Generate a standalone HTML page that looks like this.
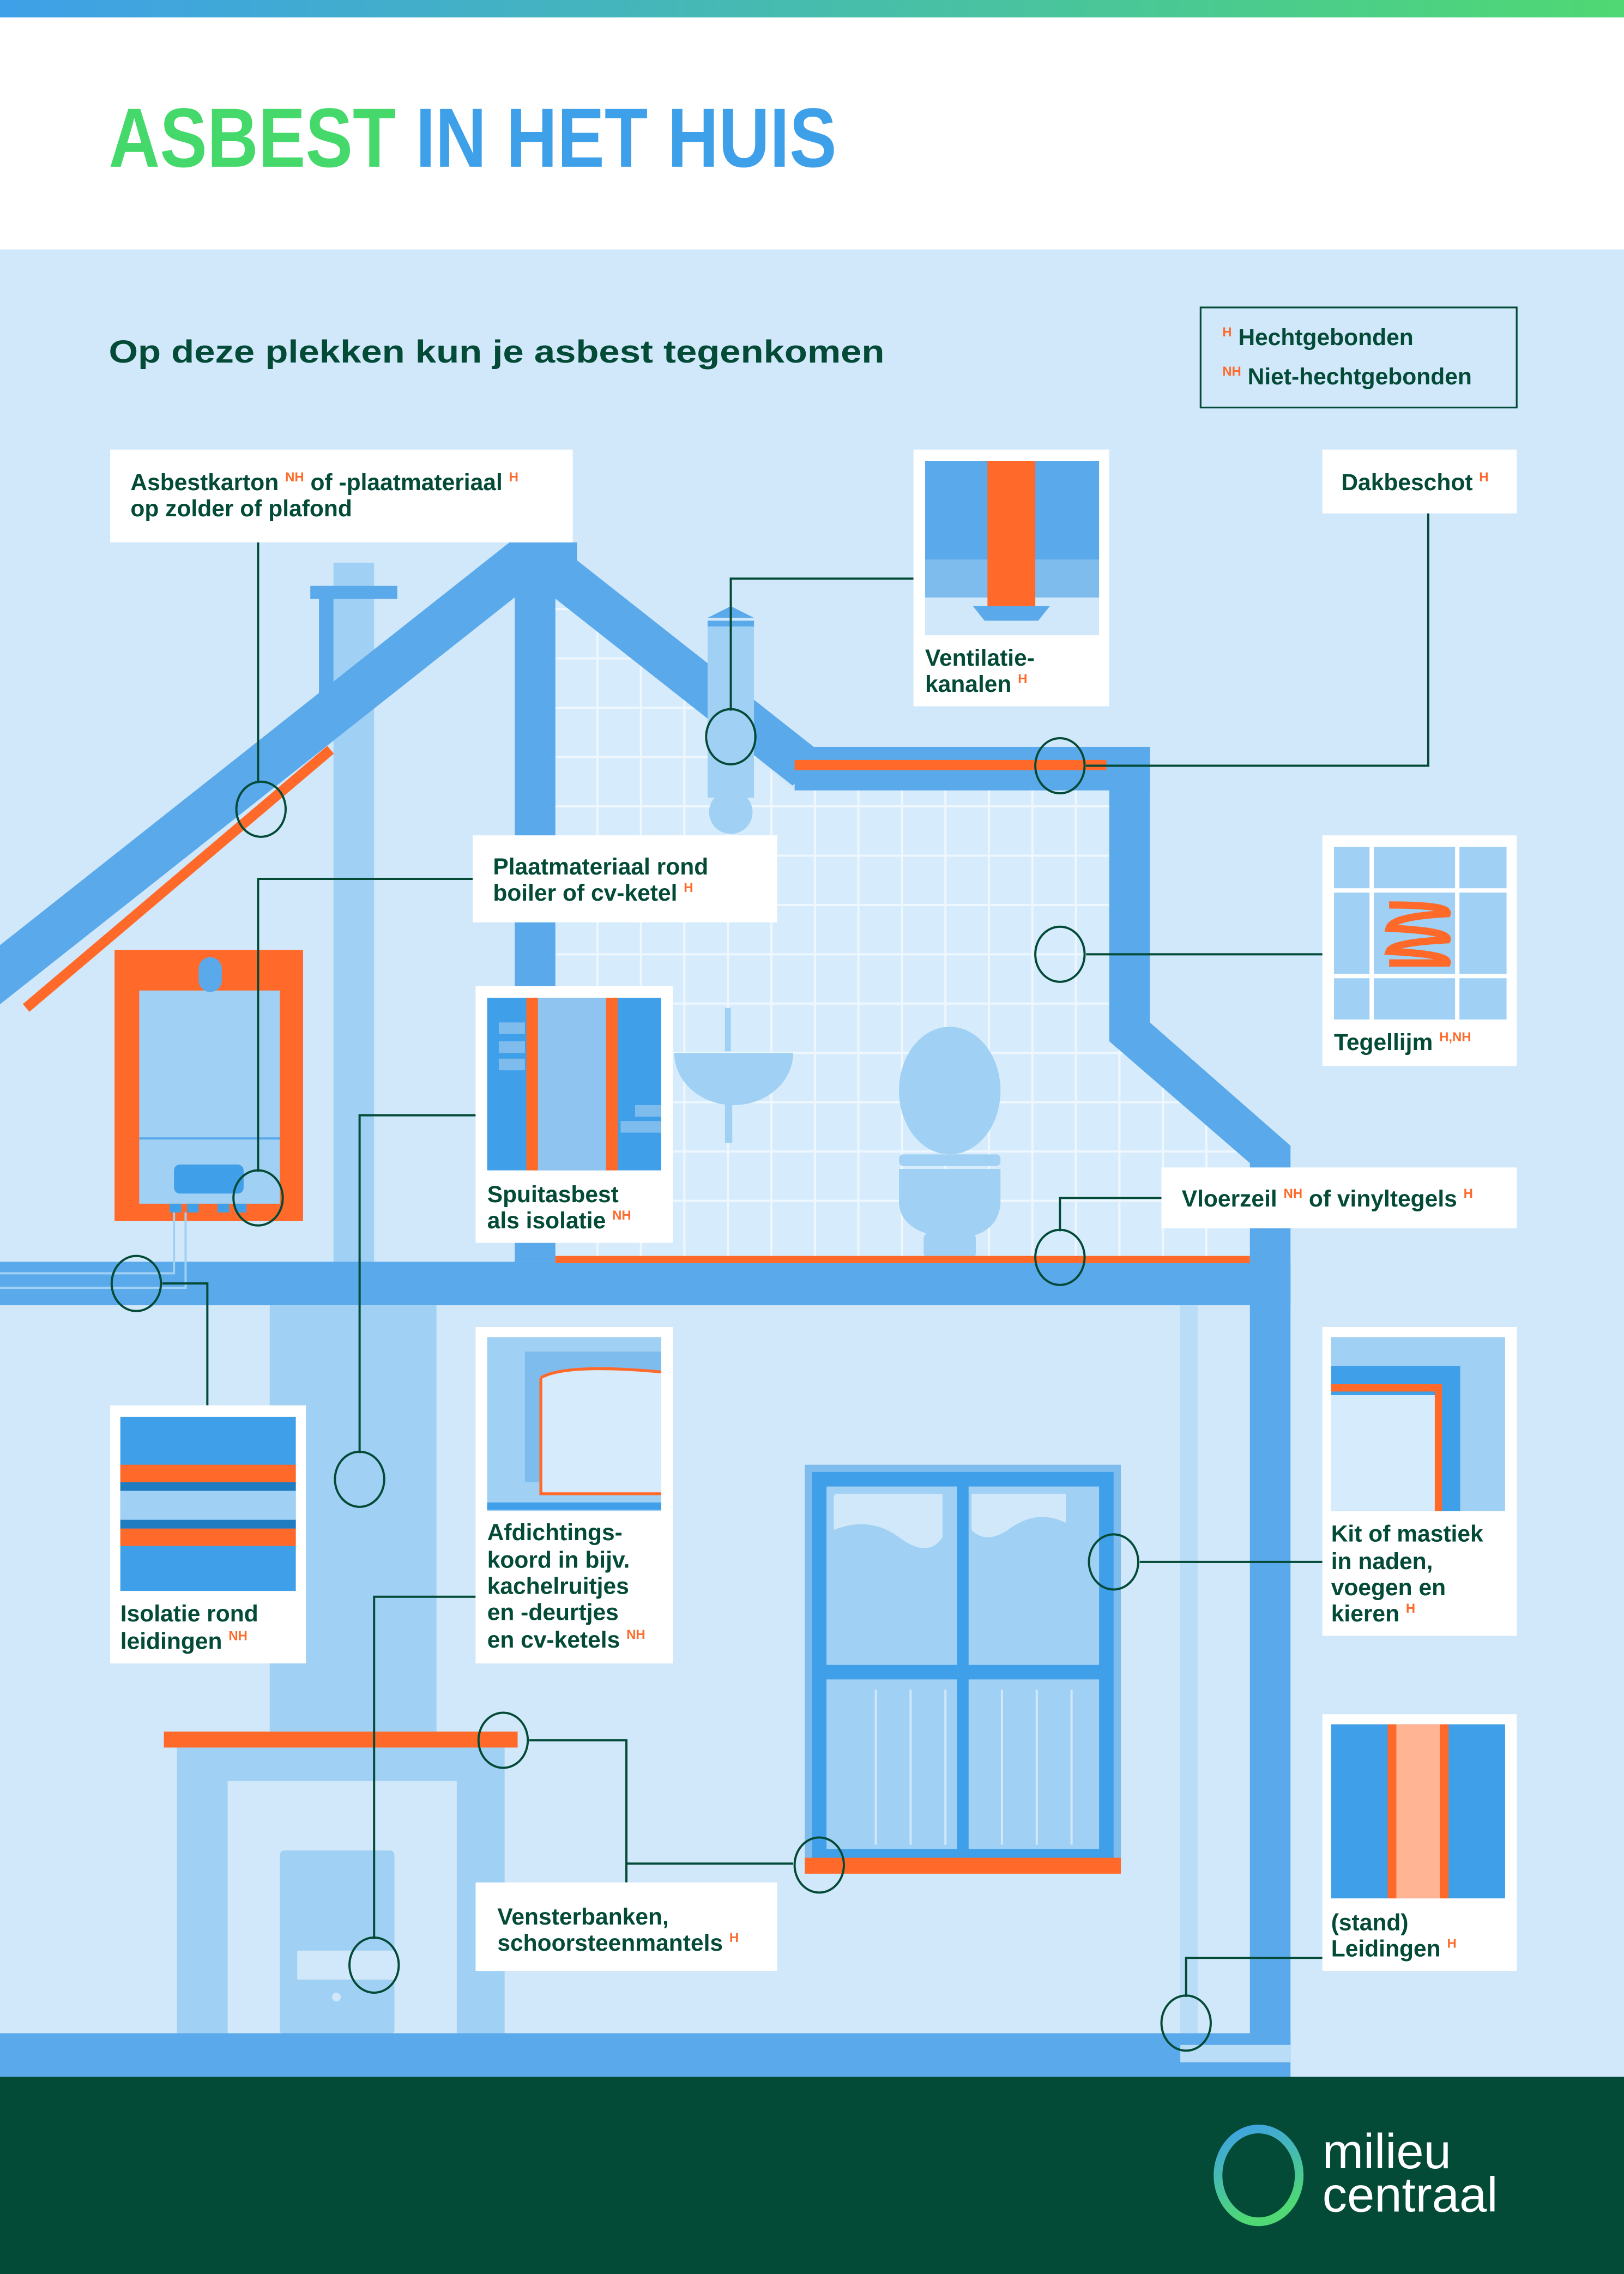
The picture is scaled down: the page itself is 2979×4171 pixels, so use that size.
<!DOCTYPE html>
<html><head><meta charset="utf-8"><style>
html,body{margin:0;padding:0;background:#fff}
svg{display:block}
text{font-family:"Liberation Sans",sans-serif;font-weight:bold;fill:#034a37}
.s{fill:#ff6a2a;font-size:9px}
.l{font-size:16px}
</style></head><body>
<svg width="2979" height="4171" viewBox="0 0 1120 1568" preserveAspectRatio="none" xmlns="http://www.w3.org/2000/svg">
<defs>
<linearGradient id="g" x1="0" x2="1"><stop offset="0" stop-color="#3ea0e8"/><stop offset="1" stop-color="#4fd873"/></linearGradient>
<linearGradient id="lg" x1="0" y1="0" x2="0.3" y2="1"><stop offset="0" stop-color="#3ea0e8"/><stop offset="1" stop-color="#4fd873"/></linearGradient>
<clipPath id="attic"><polygon points="383,405 548,545 765,545 765,715 862,800 862,866 383,866"/></clipPath>
</defs>
<rect width="1120" height="1568" fill="#fff"/>
<rect width="1120" height="12" fill="url(#g)"/>
<text x="75" y="115" font-size="58" textLength="502" lengthAdjust="spacingAndGlyphs" style="fill:#45d96b">ASBEST <tspan style="fill:#3ea0e8">IN HET HUIS</tspan></text>
<rect y="172" width="1120" height="1260" fill="#d1e8fa"/>
<text x="75" y="250" font-size="22" textLength="535" lengthAdjust="spacingAndGlyphs">Op deze plekken kun je asbest tegenkomen</text>
<rect x="828" y="212" width="218" height="69" fill="none" stroke="#034a37" stroke-width="1.2"/>
<text x="843" y="238" class="l"><tspan class="s" dy="-6">H</tspan><tspan dy="6"> Hechtgebonden</tspan></text>
<text x="843" y="265" class="l"><tspan class="s" dy="-6">NH</tspan><tspan dy="6"> Niet-hechtgebonden</tspan></text>

<!-- attic grid -->
<g clip-path="url(#attic)">
<rect x="383" y="380" width="480" height="490" fill="#d6ebfb"/>
<g stroke="#eef7fe" stroke-width="1.5">
<path d="M412 380V870M442 380V870M472 380V870M502 380V870M532 380V870M562 380V870M592 380V870M622 380V870M652 380V870M682 380V870M712 380V870M742 380V870M772 380V870M802 380V870M832 380V870"/>
<path d="M380 420H870M380 454H870M380 488H870M380 522H870M380 556H870M380 590H870M380 624H870M380 658H870M380 692H870M380 726H870M380 760H870M380 794H870M380 828H870"/>
</g></g>

<!-- chimney upstairs -->
<rect x="230" y="388" width="28" height="482" fill="#a0d0f4"/>
<rect x="214" y="404" width="60" height="9" fill="#5aa9ea"/>
<rect x="220" y="404" width="10" height="80" fill="#5aa9ea"/>
<!-- roof -->
<line x1="-10" y1="680" x2="362" y2="386" stroke="#5aa9ea" stroke-width="32"/>
<line x1="18" y1="695" x2="228" y2="517" stroke="#ff6a2a" stroke-width="7"/>
<line x1="372" y1="385" x2="556" y2="530" stroke="#5aa9ea" stroke-width="30"/>
<rect x="352" y="374" width="46" height="20" fill="#5aa9ea"/>
<rect x="355" y="375" width="28" height="495" fill="#5aa9ea"/>
<rect x="548" y="515" width="245" height="30" fill="#5aa9ea"/>
<rect x="548" y="524" width="215" height="7" fill="#ff6a2a"/>
<polygon points="765,515 793,515 793,705 890,790 890,1410 862,1410 862,802 765,718" fill="#5aa9ea"/>
<!-- vent pipe -->
<rect x="488" y="428" width="32" height="122" fill="#a0d0f4"/>
<rect x="488" y="428" width="32" height="4" fill="#5aa9ea"/>
<polygon points="488,426 520,426 504,418" fill="#5aa9ea"/>
<circle cx="504" cy="560" r="15" fill="#a0d0f4"/>
<!-- sink & toilet -->
<path d="M465 726H547A41 36 0 0 1 465 726Z" fill="#a0d0f4"/>
<rect x="500" y="695" width="4" height="30" fill="#a0d0f4"/>
<rect x="500" y="760" width="5" height="28" fill="#a0d0f4"/>
<ellipse cx="655" cy="752" rx="35" ry="44" fill="#a0d0f4"/>
<rect x="620" y="796" width="70" height="8" rx="3" fill="#a0d0f4"/>
<path d="M620 806H690V830Q688 852 660 854Q622 852 620 830Z" fill="#a0d0f4"/>
<rect x="637" y="850" width="36" height="18" rx="4" fill="#a0d0f4"/>
<!-- floor -->
<rect x="0" y="870" width="890" height="30" fill="#5aa9ea"/>
<rect x="383" y="866" width="479" height="5" fill="#ff6a2a"/>
<!-- boiler -->
<rect x="79" y="655" width="130" height="187" fill="#ff6a2a"/>
<rect x="96" y="683" width="97" height="147" fill="#a0d0f4"/>
<line x1="96" y1="785" x2="193" y2="785" stroke="#5aa9ea" stroke-width="1.5"/>
<rect x="137" y="660" width="16" height="24" rx="8" fill="#5aa9ea"/>
<rect x="120" y="803" width="48" height="20" rx="4" fill="#3f9fe8"/>
<rect x="117" y="830" width="8" height="6" fill="#3f9fe8"/><rect x="129" y="830" width="8" height="6" fill="#3f9fe8"/><rect x="150" y="830" width="8" height="6" fill="#3f9fe8"/><rect x="162" y="830" width="8" height="6" fill="#3f9fe8"/>
<path d="M0 878H120V836M0 888H128V836" fill="none" stroke="#a0d0f4" stroke-width="1.5"/>
<!-- downstairs chimney & fireplace -->
<rect x="186" y="900" width="115" height="300" fill="#a0d0f4"/>
<rect x="122" y="1205" width="226" height="198" fill="#a0d0f4"/>
<rect x="157" y="1228" width="158" height="175" fill="#d1e8fa"/>
<rect x="193" y="1276" width="79" height="127" rx="3" fill="#a0d0f4"/>
<rect x="205" y="1345" width="67" height="20" fill="#d1e8fa"/>
<circle cx="232" cy="1377" r="3" fill="#d1e8fa"/>
<rect x="113" y="1194" width="244" height="11" fill="#ff6a2a"/>
<!-- right pipe -->
<rect x="814" y="900" width="12" height="510" fill="#b9dcf7"/>
<rect x="814" y="1410" width="76" height="12" fill="#b9dcf7"/>
<!-- window -->
<rect x="555" y="1010" width="218" height="272" fill="#7fbcee"/>
<rect x="565" y="1020" width="198" height="260" fill="#a0d0f4"/>
<path d="M575 1030H650V1060Q640 1075 620 1060Q600 1045 575 1055Z" fill="#d1e8fa"/>
<path d="M670 1030H735V1050Q715 1040 695 1055Q680 1065 670 1055Z" fill="#d1e8fa"/>
<rect x="575" y="1030" width="1" height="1" fill="#a0d0f4"/>
<rect x="565" y="1020" width="198" height="260" fill="none" stroke="#3f9fe8" stroke-width="10"/>
<rect x="660" y="1020" width="8" height="260" fill="#3f9fe8"/>
<rect x="565" y="1148" width="198" height="10" fill="#3f9fe8"/>
<g stroke="#d1e8fa" stroke-width="1.5"><path d="M604 1165V1272M628 1165V1272M652 1165V1272M691 1165V1272M715 1165V1272M739 1165V1272"/></g>
<rect x="555" y="1281" width="218" height="11" fill="#ff6a2a"/>
<!-- ground -->
<rect x="0" y="1402" width="890" height="30" fill="#5aa9ea"/>
<rect x="814" y="1410" width="76" height="12" fill="#b9dcf7"/>

<!-- connectors -->
<g fill="none" stroke="#034a37" stroke-width="1.5">
<path d="M178 374V540"/>
<path d="M630 399H504V490"/>
<path d="M985 354V528H749"/>
<path d="M749 658H912"/>
<path d="M326 606H178V808"/>
<path d="M328 769H248V1002"/>
<path d="M801 826H731V849"/>
<path d="M112 885H143V969"/>
<path d="M786 1077H912"/>
<path d="M365 1200H432V1298M432 1285H547"/>
<path d="M328 1101H258V1337"/>
<path d="M912 1350H818V1377"/>
<ellipse cx="180" cy="558" rx="17" ry="19"/>
<ellipse cx="504" cy="508" rx="17" ry="19"/>
<ellipse cx="731" cy="528" rx="17" ry="19"/>
<ellipse cx="731" cy="658" rx="17" ry="19"/>
<ellipse cx="178" cy="826" rx="17" ry="19"/>
<ellipse cx="94" cy="885" rx="17" ry="19"/>
<ellipse cx="731" cy="867" rx="17" ry="19"/>
<ellipse cx="248" cy="1020" rx="17" ry="19"/>
<ellipse cx="768" cy="1077" rx="17" ry="19"/>
<ellipse cx="347" cy="1200" rx="17" ry="19"/>
<ellipse cx="565" cy="1286" rx="17" ry="19"/>
<ellipse cx="258" cy="1355" rx="17" ry="19"/>
<ellipse cx="818" cy="1395" rx="17" ry="19"/>
</g>

<!-- label boxes -->
<g fill="#fff">
<rect x="76" y="310" width="319" height="64"/>
<rect x="630" y="310" width="135" height="177"/>
<rect x="912" y="310" width="134" height="44"/>
<rect x="326" y="576" width="210" height="60"/>
<rect x="912" y="576" width="134" height="159"/>
<rect x="328" y="680" width="136" height="177"/>
<rect x="801" y="805" width="245" height="42"/>
<rect x="76" y="969" width="135" height="178"/>
<rect x="328" y="915" width="136" height="232"/>
<rect x="912" y="915" width="134" height="213"/>
<rect x="328" y="1298" width="208" height="61"/>
<rect x="912" y="1182" width="134" height="177"/>
</g>

<!-- ventilation img -->
<rect x="638" y="318" width="120" height="68" fill="#5aa9ea"/>
<rect x="638" y="386" width="120" height="26" fill="#7fbcee"/>
<rect x="638" y="412" width="120" height="26" fill="#d1e8fa"/>
<rect x="681" y="318" width="33" height="100" fill="#ff6a2a"/>
<polygon points="671,418 724,418 716,428 679,428" fill="#5aa9ea"/>
<!-- tegel img -->
<rect x="920" y="584" width="119" height="119" fill="#a0d0f4"/>
<g stroke="#fff" stroke-width="3"><path d="M946 584V703M1005 584V703M920 614H1039M920 673H1039"/></g>
<path d="M958 624Q1000 624 998 630Q960 632 958 640Q1000 642 998 648Q960 650 958 656Q1000 658 998 664H958" fill="none" stroke="#ff6a2a" stroke-width="5"/>
<!-- spuit img -->
<rect x="336" y="688" width="120" height="119" fill="#3f9fe8"/>
<rect x="369" y="688" width="52" height="119" fill="#8fc3f0"/>
<rect x="363" y="688" width="8" height="119" fill="#ff6a2a"/><rect x="418" y="688" width="8" height="119" fill="#ff6a2a"/>
<rect x="344" y="705" width="18" height="8" fill="#7fbcee"/><rect x="344" y="718" width="18" height="8" fill="#7fbcee"/><rect x="344" y="730" width="18" height="8" fill="#7fbcee"/>
<rect x="438" y="762" width="18" height="8" fill="#7fbcee"/><rect x="428" y="773" width="28" height="8" fill="#7fbcee"/>
<!-- isolatie img -->
<rect x="83" y="977" width="121" height="120" fill="#3f9fe8"/>
<rect x="83" y="1010" width="121" height="12" fill="#ff6a2a"/>
<rect x="83" y="1022" width="121" height="6" fill="#1f7cc0"/>
<rect x="83" y="1028" width="121" height="20" fill="#a0d0f4"/>
<rect x="83" y="1048" width="121" height="6" fill="#1f7cc0"/>
<rect x="83" y="1054" width="121" height="12" fill="#ff6a2a"/>
<!-- afdichting img -->
<rect x="336" y="922" width="120" height="120" fill="#a0d0f4"/>
<rect x="362" y="932" width="94" height="90" fill="#7fbcee"/>
<path d="M373 950Q390 940 456 946V1030H373Z" fill="#d6ebfb"/>
<path d="M373 950Q390 940 456 946M373 950V1030H456" fill="none" stroke="#ff6a2a" stroke-width="2"/>
<rect x="336" y="1036" width="120" height="5" fill="#3f9fe8"/>
<!-- kit img -->
<rect x="918" y="922" width="120" height="120" fill="#a0d0f4"/>
<rect x="918" y="942" width="89" height="100" fill="#3f9fe8"/>
<rect x="918" y="962" width="72" height="80" fill="#d6ebfb"/>
<path d="M918 957H992V1042" fill="none" stroke="#ff6a2a" stroke-width="5"/>
<!-- leidingen img -->
<rect x="918" y="1189" width="120" height="120" fill="#3f9fe8"/>
<rect x="957" y="1189" width="42" height="120" fill="#ff6a2a"/>
<rect x="963" y="1189" width="30" height="120" fill="#ffb494"/>

<!-- label text -->
<text x="90" y="338" class="l">Asbestkarton <tspan class="s" dy="-6">NH</tspan><tspan dy="6"> of -plaatmateriaal </tspan><tspan class="s" dy="-6">H</tspan></text>
<text x="90" y="356" class="l">op zolder of plafond</text>
<text x="638" y="459" class="l">Ventilatie-</text>
<text x="638" y="477" class="l">kanalen <tspan class="s" dy="-6">H</tspan></text>
<text x="925" y="338" class="l">Dakbeschot <tspan class="s" dy="-6">H</tspan></text>
<text x="340" y="603" class="l">Plaatmateriaal rond</text>
<text x="340" y="621" class="l">boiler of cv-ketel <tspan class="s" dy="-6">H</tspan></text>
<text x="920" y="724" class="l">Tegellijm <tspan class="s" dy="-6">H,NH</tspan></text>
<text x="336" y="829" class="l">Spuitasbest</text>
<text x="336" y="847" class="l">als isolatie <tspan class="s" dy="-6">NH</tspan></text>
<text x="815" y="832" class="l">Vloerzeil <tspan class="s" dy="-6">NH</tspan><tspan dy="6"> of vinyltegels </tspan><tspan class="s" dy="-6">H</tspan></text>
<text x="83" y="1118" class="l">Isolatie rond</text>
<text x="83" y="1137" class="l">leidingen <tspan class="s" dy="-6">NH</tspan></text>
<text x="336" y="1062" class="l">Afdichtings-</text>
<text x="336" y="1081" class="l">koord in bijv.</text>
<text x="336" y="1099" class="l">kachelruitjes</text>
<text x="336" y="1117" class="l">en -deurtjes</text>
<text x="336" y="1136" class="l">en cv-ketels <tspan class="s" dy="-6">NH</tspan></text>
<text x="918" y="1063" class="l">Kit of mastiek</text>
<text x="918" y="1082" class="l">in naden,</text>
<text x="918" y="1100" class="l">voegen en</text>
<text x="918" y="1118" class="l">kieren <tspan class="s" dy="-6">H</tspan></text>
<text x="343" y="1327" class="l">Vensterbanken,</text>
<text x="343" y="1345" class="l">schoorsteenmantels <tspan class="s" dy="-6">H</tspan></text>
<text x="918" y="1331" class="l">(stand)</text>
<text x="918" y="1349" class="l">Leidingen <tspan class="s" dy="-6">H</tspan></text>

<!-- footer -->
<rect y="1432" width="1120" height="136" fill="#034a37"/>
<ellipse cx="868" cy="1500" rx="28" ry="32" fill="none" stroke="url(#lg)" stroke-width="6"/>
<text x="912" y="1495" font-size="34" style="fill:#fff;font-weight:normal">milieu</text>
<text x="912" y="1525" font-size="34" style="fill:#fff;font-weight:normal">centraal</text>
</svg>
</body></html>
